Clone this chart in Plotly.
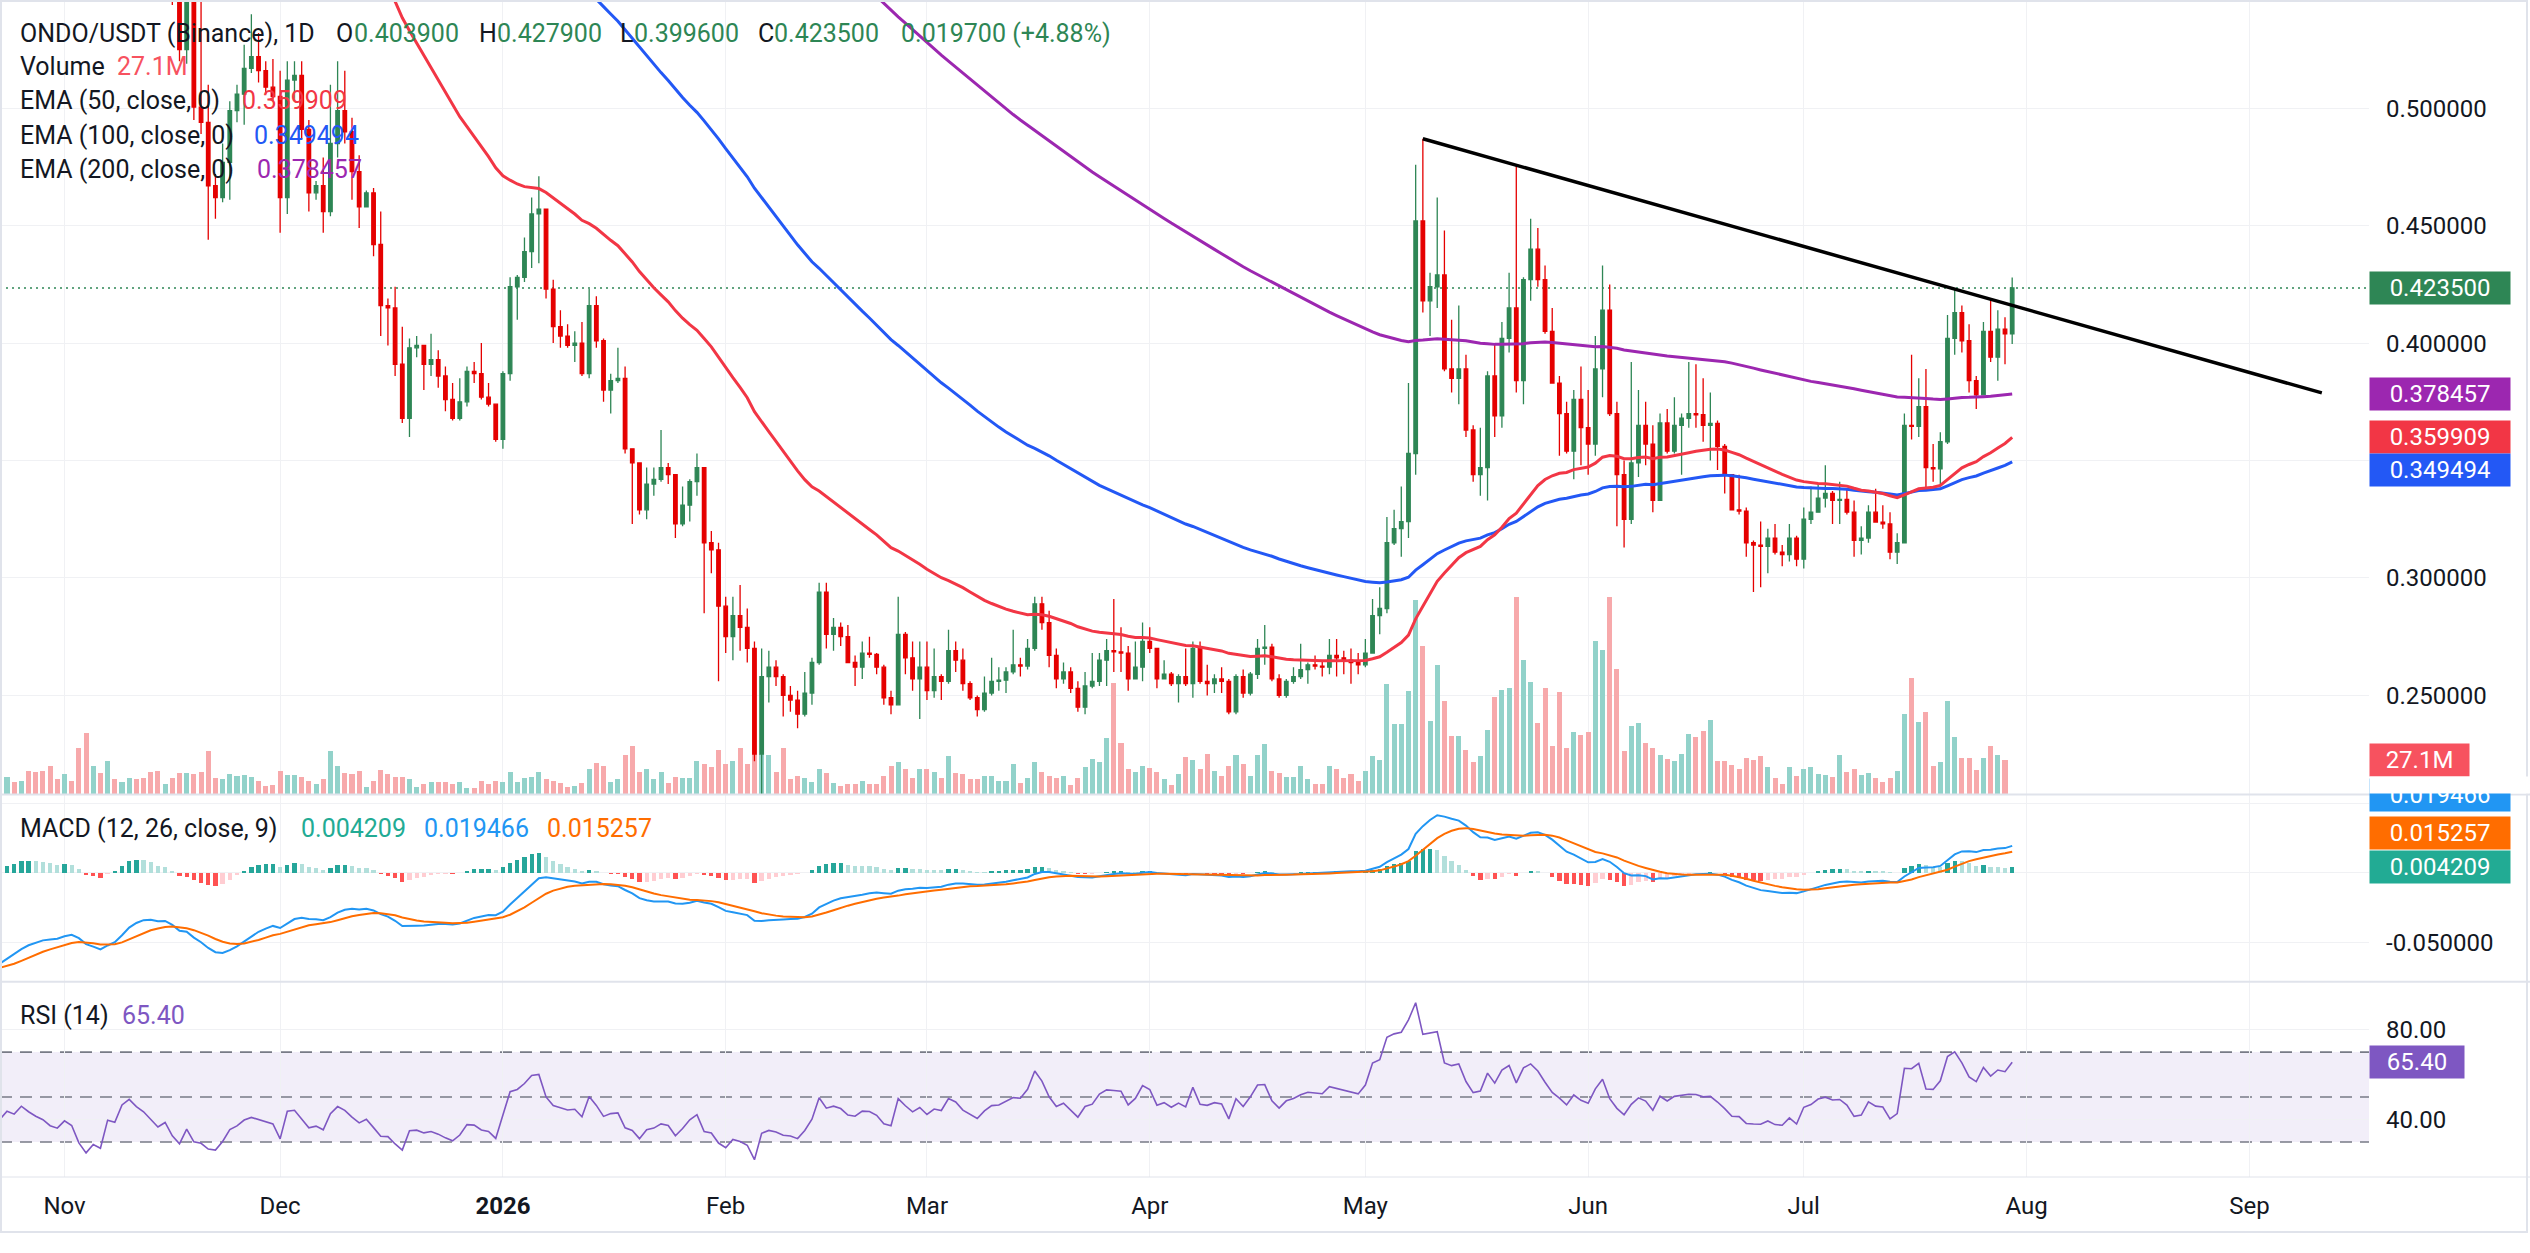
import pandas as pd
import plotly.graph_objects as go

# ------------------------------------------------------------------ data
START_DATE = "2025-10-23"
FIRST_OPEN = 0.685

close = [
    .690, .705, .698, .712, .700, .690, .682, .668, .662, .672,
    .662, .615, .578, .590, .576, .622, .616, .650, .662, .645,
    .632, .612, .590, .598, .556, .525, .552, .5005, .494, .467,
    .462, .477, .499, .506, .517, .522, .516, .509, .505, .462,
    .512, .514, .491, .464, .467, .456, .485, .499, .490, .473,
    .458, .464, .442, .416, .415, .391, .368, .398, .399, .391,
    .393, .386, .376, .368, .375, .388, .387, .377, .374, .359,
    .387, .424, .428, .439, .455, .457, .423, .407, .403, .399,
    .400, .387, .416, .401, .380, .384, .385, .355, .349, .329,
    .340, .342, .347, .344, .323, .331, .341, .347, .315, .312,
    .288, .275, .284, .279, .270, .225, .258, .262, .258, .250,
    .248, .242, .251, .264, .294, .276, .279, .275, .264, .262,
    .268, .2675, .262, .249, .246, .276, .266, .257, .262, .252,
    .258, .256, .269, .265, .255, .249, .244, .251, .256, .2565,
    .260, .263, .2625, .270, .289, .281, .267, .257, .260, .253,
    .245, .254, .256, .265, .269, .2685, .268, .257, .262, .273,
    .270, .257, .259, .255, .258, .255, .270, .256, .255, .257,
    .256, .243, .258, .251, .259, .270, .2705, .257, .250, .256,
    .258, .261, .263, .2625, .262, .267, .266, .265, .264, .263,
    .268, .284, .287, .315, .321, .324, .353, .452, .418, .424,
    .429, .389, .385, .389, .363, .344, .347, .386, .369, .402,
    .415, .384, .427, .440, .427, .405, .383, .370, .354, .376,
    .364, .357, .389, .414, .370, .344, .325, .349, .365, .357,
    .333, .366, .354, .365, .368, .370, .3695, .365, .3658, .356,
    .344, .329, .3285, .315, .314, .3135, .317, .311, .310, .317,
    .308, .325, .328, .334, .336, .333, .3335, .328, .316, .317,
    .328, .3238, .323, .311, .315, .365, .3646, .373, .347, .3465,
    .358, .402, .413, .401, .384, .378, .405, .394, .406, .4039, .4235,
]
high = [
    .705, .718, .715, .725, .716, .704, .696, .688, .676, .680,
    .678, .666, .620, .605, .598, .630, .632, .658, .675, .668,
    .652, .638, .615, .606, .600, .565, .562, .556, .549, .510,
    .472, .485, .503, .510, .527, .540, .532, .520, .521, .516,
    .520, .520, .520, .495, .469, .479, .510, .520, .516, .496,
    .480, .465, .466, .456, .419, .424, .407, .402, .403, .399,
    .404, .397, .390, .383, .385, .390, .392, .400, .383, .374,
    .388, .428, .429, .445, .462, .471, .457, .427, .414, .408,
    .405, .409, .423, .420, .402, .387, .398, .390, .355, .349,
    .347, .347, .363, .349, .344, .339, .342, .353, .347, .320,
    .315, .292, .292, .297, .287, .273, .270, .269, .265, .259,
    .254, .252, .260, .266, .298, .298, .283, .281, .280, .267,
    .273, .275, .268, .263, .252, .292, .277, .273, .273, .273,
    .270, .259, .278, .273, .270, .256, .250, .258, .266, .262,
    .262, .278, .266, .274, .292, .292, .286, .270, .264, .262,
    .256, .260, .268, .268, .274, .291, .279, .271, .273, .281,
    .279, .270, .265, .260, .259, .270, .273, .273, .263, .259,
    .262, .257, .259, .261, .260, .274, .280, .272, .259, .257,
    .262, .272, .264, .267, .265, .274, .274, .269, .270, .268,
    .274, .291, .296, .326, .329, .339, .383, .476, .487, .430,
    .462, .448, .410, .416, .395, .365, .364, .388, .400, .409,
    .430, .476, .428, .453, .449, .433, .415, .386, .375, .380,
    .390, .380, .403, .433, .425, .375, .350, .392, .380, .375,
    .365, .370, .372, .377, .370, .392, .391, .385, .379, .367,
    .357, .344, .344, .330, .316, .324, .321, .323, .314, .323,
    .318, .330, .339, .340, .348, .337, .341, .338, .333, .322,
    .331, .338, .331, .328, .319, .370, .395, .385, .389, .357,
    .362, .412, .423, .416, .408, .386, .409, .419, .414, .411, .4279,
]
low = [
    .672, .684, .690, .694, .695, .684, .675, .660, .655, .658,
    .655, .605, .560, .572, .568, .572, .608, .610, .645, .640,
    .625, .605, .584, .585, .544, .520, .519, .495, .489, .444,
    .453, .460, .461, .494, .493, .515, .511, .506, .503, .447,
    .455, .503, .487, .456, .461, .447, .454, .479, .485, .461,
    .449, .458, .437, .403, .399, .386, .366, .360, .394, .380,
    .386, .381, .371, .367, .367, .373, .383, .376, .373, .358,
    .355, .384, .410, .426, .432, .434, .419, .400, .398, .398,
    .392, .386, .385, .398, .375, .370, .383, .353, .323, .327,
    .325, .335, .341, .340, .317, .322, .324, .335, .285, .302,
    .256, .268, .265, .269, .264, .222, .208, .247, .254, .241,
    .243, .236, .241, .246, .263, .270, .269, .271, .264, .254,
    .257, .266, .259, .246, .242, .246, .259, .252, .240, .248,
    .249, .248, .255, .260, .252, .248, .241, .243, .250, .252,
    .251, .259, .258, .261, .269, .278, .262, .253, .255, .251,
    .243, .242, .253, .254, .254, .260, .260, .252, .257, .256,
    .268, .253, .257, .254, .247, .254, .249, .255, .250, .251,
    .251, .242, .242, .249, .250, .257, .263, .256, .249, .249,
    .255, .257, .255, .261, .258, .259, .258, .259, .255, .259,
    .262, .268, .276, .285, .314, .309, .317, .344, .413, .403,
    .415, .388, .379, .374, .360, .341, .335, .333, .360, .364,
    .396, .379, .374, .418, .424, .404, .383, .352, .353, .342,
    .348, .344, .352, .377, .369, .322, .313, .323, .343, .348,
    .328, .333, .353, .353, .344, .364, .364, .358, .350, .346,
    .336, .329, .327, .309, .294, .296, .302, .310, .305, .307,
    .305, .304, .323, .328, .330, .323, .323, .327, .309, .310,
    .315, .3238, .321, .308, .306, .315, .359, .360, .338, .341,
    .339, .357, .395, .396, .379, .372, .378, .392, .384, .391, .3996,
]
volume_m = [
    12.0, 14.2, 10.1, 10.9, 19.0, 18.2, 19.0, 22.3, 12.2, 16.2,
    10.9, 36.5, 48.6, 22.3, 17.4, 26.3, 12.2, 10.1, 13.4, 12.2,
    13.0, 18.2, 19.0, 8.1, 13.0, 17.4, 17.4, 16.2, 18.2, 34.4,
    13.0, 12.2, 16.2, 15.0, 15.4, 14.2, 10.9, 6.9, 7.7, 19.0,
    15.4, 15.4, 14.2, 10.9, 8.1, 12.2, 34.4, 22.3, 17.0, 16.2,
    19.0, 6.1, 10.9, 19.4, 16.2, 14.2, 14.2, 12.2, 6.1, 8.1,
    10.1, 10.1, 10.1, 8.1, 10.1, 5.3, 5.3, 10.9, 8.1, 10.9,
    10.1, 18.2, 10.1, 13.4, 14.2, 18.2, 12.2, 10.9, 9.3, 6.1,
    6.9, 9.3, 20.3, 25.1, 22.3, 10.1, 12.2, 31.2, 38.5, 18.2,
    20.3, 12.2, 18.2, 9.3, 14.2, 13.4, 13.4, 26.3, 24.3, 21.5,
    35.2, 24.3, 26.3, 36.5, 24.3, 32.4, 32.4, 31.2, 18.2, 36.5,
    12.2, 15.0, 13.4, 10.1, 20.3, 17.4, 9.3, 6.9, 8.1, 8.1,
    10.9, 8.1, 8.1, 15.0, 22.3, 25.5, 20.3, 13.4, 20.3, 20.3,
    18.2, 13.4, 30.4, 17.4, 16.2, 12.2, 12.2, 15.0, 15.0, 10.9,
    10.9, 24.3, 9.3, 13.4, 25.5, 18.2, 15.0, 13.4, 15.0, 7.3,
    13.4, 21.5, 28.4, 25.5, 44.6, 87.9, 40.5, 20.3, 18.2, 22.3,
    21.1, 18.2, 12.2, 7.3, 16.2, 29.6, 27.1, 20.3, 32.0, 19.0,
    15.0, 22.3, 31.2, 24.3, 15.0, 31.2, 40.1, 19.0, 17.4, 14.2,
    14.2, 22.3, 12.2, 8.1, 8.1, 22.3, 20.3, 13.4, 16.2, 10.9,
    19.0, 30.4, 27.1, 87.1, 55.5, 55.5, 82.2, 153.9, 117.5, 57.9,
    102.5, 74.1, 46.6, 46.6, 35.2, 25.5, 30.4, 51.4, 77.0, 83.0,
    84.2, 156.7, 106.5, 89.1, 56.7, 84.2, 38.5, 81.0, 36.5, 49.8,
    47.4, 49.8, 121.5, 114.2, 156.7, 99.2, 34.4, 53.9, 56.7, 40.5,
    36.5, 31.2, 28.4, 26.3, 32.4, 47.8, 45.4, 50.6, 58.7, 26.3,
    26.3, 23.1, 20.3, 29.2, 27.5, 30.4, 21.5, 13.4, 8.1, 21.5,
    15.0, 20.3, 21.5, 16.2, 15.4, 14.2, 31.2, 18.2, 20.3, 15.4,
    17.0, 13.4, 10.1, 13.4, 19.0, 64.0, 91.9, 57.5, 65.6, 22.3,
    25.5, 73.7, 45.8, 29.2, 29.2, 19.4, 29.2, 38.5, 31.2, 27.1, None,
]

EMA_SEEDS = {50: 0.870, 100: 0.916, 200: 0.914}
MACD_SEEDS = (0.722, 0.787, -0.068)      # fast EMA, slow EMA, signal
RSI_SEEDS = (0.0070, 0.0105)             # average gain, average loss

month_ticks = ["2025-11-01", "2025-12-01", "2026-01-01", "2026-02-01", "2026-03-01",
               "2026-04-01", "2026-05-01", "2026-06-01", "2026-07-01", "2026-08-01",
               "2026-09-01"]
month_labels = ["Nov", "Dec", "<b>2026</b>", "Feb", "Mar", "Apr", "May", "Jun",
                "Jul", "Aug", "Sep"]
price_ticks = [0.25, 0.30, 0.35, 0.40, 0.45, 0.50]
price_labels = ["0.250000", "0.300000", "", "0.400000", "0.450000", "0.500000"]
macd_ticks = [-0.05, 0.0, 0.05]
macd_labels = ["-0.050000", "", ""]
rsi_ticks = [40, 80]
rsi_labels = ["40.00", "80.00"]
rsi_levels = [70, 50, 30]

trend_dates = ["2026-05-09", "2026-09-11 02:00"]
trend_prices = [0.487, 0.3788]

legend_ohlc = [("O", 0.4039), ("H", 0.4279), ("L", 0.3996), ("C", 0.4235)]
legend_change = (0.0197, 4.88)
legend_volume = 27.1
legend_ema = {50: 0.359909, 100: 0.349494, 200: 0.378457}
legend_macd = {"hist": 0.004209, "macd": 0.019466, "signal": 0.015257}
legend_rsi = 65.40

# ------------------------------------------------------------------ style
FONT = "Roboto, Arial, sans-serif"
TEXT = "#131722"
UP = "#2E8655"
DOWN = "#E50000"
VOL_UP = "#92D2CA"
VOL_DOWN = "#F7A9AB"
EMA_COL = {50: "#F23645", 100: "#2358F5", 200: "#9C27B0"}
MACD_COL = "#2196F3"
SIG_COL = "#FF6D00"
HIST_COLS = ("#26A69A", "#B2DFDB", "#FFCDD2", "#FF5252")
RSI_COL = "#7E57C2"
GRID = "#F0F1F4"
BORDER = "#E0E3EB"

W, H = 2530, 1253
PW, PH = 2369, 1177           # plot area (right axis and time axis outside)
MAIN_BOTTOM, MACD_BOTTOM = 794.5, 981.7
X_RANGE = ["2025-10-23 00:36", "2026-09-17 15:30"]
PRICE_RANGE = [0.2078, 0.5461]
VOL_RANGE = [0, 629]
MACD_RANGE = [-0.078, 0.0563]
RSI_RANGE = [14.4, 101.35]


def fy(px):
    return (PH - px) / PH


def fx(px):
    return px / PW


# ------------------------------------------------------------------ derived series
n = len(close)
dates = pd.date_range(START_DATE, periods=n, freq="D")
opens = [FIRST_OPEN] + close[:-1]


def ema_series(vals, length, seed):
    k = 2.0 / (length + 1)
    out = [seed]
    for v in vals[1:]:
        out.append(out[-1] + k * (v - out[-1]))
    return out


ema = {L: ema_series(close, L, s) for L, s in EMA_SEEDS.items()}
fast = ema_series(close, 12, MACD_SEEDS[0])
slow = ema_series(close, 26, MACD_SEEDS[1])
macd = [f - s for f, s in zip(fast, slow)]
signal = [MACD_SEEDS[2]]
for m in macd[1:]:
    signal.append(signal[-1] + 0.2 * (m - signal[-1]))
hist = [m - s for m, s in zip(macd, signal)]
hist_colors = []
for i, hv in enumerate(hist):
    prev = hist[i - 1] if i > 0 else hv
    if hv >= 0:
        hist_colors.append(HIST_COLS[0] if hv > prev else HIST_COLS[1])
    else:
        hist_colors.append(HIST_COLS[2] if hv > prev else HIST_COLS[3])

ag, al = RSI_SEEDS
rsi = [100 - 100 / (1 + ag / al)]
for i in range(1, n):
    ch = close[i] - close[i - 1]
    ag = (ag * 13 + max(ch, 0)) / 14
    al = (al * 13 + max(-ch, 0)) / 14
    rsi.append(100 - 100 / (1 + ag / al))

vol_colors = [VOL_UP if c >= o else VOL_DOWN for c, o in zip(close, opens)]

DAY_MS = 86400000

# ------------------------------------------------------------------ traces
fig = go.Figure()

fig.add_trace(go.Bar(x=dates, y=volume_m, marker=dict(color=vol_colors, line=dict(width=0)),
                     width=0.7 * DAY_MS, xaxis="x", yaxis="y", hoverinfo="skip"))

fig.add_trace(go.Candlestick(
    x=dates, open=opens, high=high, low=low, close=close,
    xaxis="x", yaxis="y4",
    increasing=dict(line=dict(color=UP, width=1.3), fillcolor=UP),
    decreasing=dict(line=dict(color=DOWN, width=1.3), fillcolor=DOWN),
    whiskerwidth=0, hoverinfo="skip"))

for L in (200, 100, 50):
    fig.add_trace(go.Scatter(x=dates, y=ema[L], mode="lines", xaxis="x", yaxis="y4",
                             line=dict(color=EMA_COL[L], width=3), hoverinfo="skip"))

fig.add_trace(go.Scatter(x=trend_dates, y=trend_prices, mode="lines", xaxis="x", yaxis="y4",
                         line=dict(color="#000000", width=3.5), hoverinfo="skip"))

fig.add_trace(go.Bar(x=dates, y=hist, marker=dict(color=hist_colors, line=dict(width=0)),
                     width=0.6 * DAY_MS, xaxis="x2", yaxis="y2", hoverinfo="skip"))
fig.add_trace(go.Scatter(x=dates, y=macd, mode="lines", xaxis="x2", yaxis="y2",
                         line=dict(color=MACD_COL, width=2), hoverinfo="skip"))
fig.add_trace(go.Scatter(x=dates, y=signal, mode="lines", xaxis="x2", yaxis="y2",
                         line=dict(color=SIG_COL, width=2), hoverinfo="skip"))

fig.add_trace(go.Scatter(x=dates, y=rsi, mode="lines", xaxis="x3", yaxis="y3",
                         line=dict(color=RSI_COL, width=1.6), hoverinfo="skip"))

# ------------------------------------------------------------------ shapes
shapes = []
shapes.append(dict(type="rect", xref="paper", x0=0, x1=1, yref="y3", y0=30, y1=70,
                   fillcolor="rgba(126,87,194,0.10)", line=dict(width=0), layer="below"))
for lv in rsi_levels:
    shapes.append(dict(type="line", xref="paper", x0=0, x1=1, yref="y3", y0=lv, y1=lv,
                       line=dict(color="#787B86", width=1.6, dash="12px,8px"), layer="below"))
shapes.append(dict(type="line", xref="paper", x0=0, x1=1, yref="y4",
                   y0=legend_ohlc[3][1], y1=legend_ohlc[3][1],
                   line=dict(color=UP, width=1.5, dash="2px,4px"), layer="below"))
for ypx in (MAIN_BOTTOM, MACD_BOTTOM):
    shapes.append(dict(type="line", xref="paper", x0=0, x1=W / PW, yref="paper",
                       y0=fy(ypx), y1=fy(ypx), line=dict(color=BORDER, width=2), layer="above"))
shapes.append(dict(type="line", xref="paper", x0=0, x1=W / PW, yref="paper",
                   y0=fy(PH), y1=fy(PH), line=dict(color=BORDER, width=1), layer="above"))
shapes.append(dict(type="rect", xref="paper", x0=fx(1), x1=fx(2527), yref="paper",
                   y0=fy(1232), y1=fy(1), line=dict(color=BORDER, width=2), layer="above"))

# ------------------------------------------------------------------ annotations
ann = []


def text_at(xpx, ypx, text, color=TEXT, size=25):
    ann.append(dict(text=text, x=fx(xpx), xref="paper", xanchor="left",
                    y=fy(ypx), yref="paper", yanchor="middle", showarrow=False,
                    font=dict(family=FONT, size=size, color=color)))


text_at(18, 33, "ONDO/USDT (Binance), 1D")
ohlc_x = [(334, 352), (477, 495), (618, 632), (756, 772)]
for (lab, val), (lx, vx) in zip(legend_ohlc, ohlc_x):
    text_at(lx, 33, lab)
    text_at(vx, 33, f"{val:.6f}", UP)
text_at(899, 33, f"{legend_change[0]:.6f} (+{legend_change[1]:.2f}%)", UP)
text_at(18, 66.5, "Volume")
text_at(115, 66.5, f"{legend_volume:.1f}M", "#F7525F")
ema_rows = [(50, 100.5, 240), (100, 135, 252), (200, 169, 255)]
for L, ypx, vx in ema_rows:
    text_at(18, ypx, f"EMA ({L}, close, 0)")
    text_at(vx, ypx, f"{legend_ema[L]:.6f}", EMA_COL[L])
text_at(18, 828, "MACD (12, 26, close, 9)")
text_at(299, 828, f"{legend_macd['hist']:.6f}", "#22AB94")
text_at(422, 828, f"{legend_macd['macd']:.6f}", MACD_COL)
text_at(545, 828, f"{legend_macd['signal']:.6f}", SIG_COL)
text_at(18, 1015, "RSI (14)")
text_at(120, 1015, f"{legend_rsi:.2f}", RSI_COL)


def axis_label(text, y, yref, bg, width=140, yshift=0):
    ann.append(dict(text=text, x=1, xref="paper", xanchor="left", y=y, yref=yref,
                    yanchor="middle", yshift=yshift, showarrow=False, bgcolor=bg,
                    width=width, height=32, align="center", borderpad=0,
                    font=dict(family=FONT, size=24, color="#FFFFFF")))


axis_label(f"{legend_ohlc[3][1]:.6f}", legend_ohlc[3][1], "y4", UP)
axis_label(f"{legend_ema[200]:.6f}", legend_ema[200], "y4", EMA_COL[200])
axis_label(f"{legend_ema[50]:.6f}", legend_ema[50], "y4", EMA_COL[50])
axis_label(f"{legend_ema[100]:.6f}", legend_ema[100], "y4", EMA_COL[100], yshift=-8.5)
axis_label(f"{legend_volume:.1f}M", legend_volume, "y", "#F7525F", width=99)
axis_label(f"{legend_macd['macd']:.6f}", legend_macd["macd"], "y2", MACD_COL, yshift=51)
axis_label(f"{legend_macd['signal']:.6f}", legend_macd["signal"], "y2", SIG_COL, yshift=19)
axis_label(f"{legend_macd['hist']:.6f}", legend_macd["hist"], "y2", "#22AB94")
axis_label(f"{legend_rsi:.2f}", legend_rsi, "y3", RSI_COL, width=94)
# pane edge hides the upper half of the topmost MACD label
ann.append(dict(text=" ", x=1, xref="paper", xanchor="left", y=fy(785), yref="paper",
                yanchor="middle", showarrow=False, bgcolor="#FFFFFF", width=158, height=16,
                borderpad=0))

# ------------------------------------------------------------------ layout
tick_font = dict(family=FONT, size=24, color=TEXT)
xcommon = dict(type="date", range=X_RANGE, tickvals=month_ticks, ticktext=month_labels,
               showgrid=True, gridcolor=GRID, gridwidth=1, zeroline=False, showline=False,
               ticks="", domain=[0, 1])

fig.update_layout(
    width=W, height=H,
    margin=dict(l=0, r=W - PW, t=0, b=H - PH, pad=0),
    paper_bgcolor="#FFFFFF", plot_bgcolor="rgba(0,0,0,0)",
    showlegend=False, hovermode=False, dragmode=False,
    boxgap=0.3,
    bargap=0,
    xaxis=dict(xcommon, anchor="y", showticklabels=False, rangeslider=dict(visible=False)),
    xaxis2=dict(xcommon, anchor="y2", matches="x", showticklabels=False),
    xaxis3=dict(xcommon, anchor="y3", matches="x", showticklabels=True,
                tickfont=tick_font, ticklabelstandoff=12),
    yaxis=dict(domain=[fy(MAIN_BOTTOM), 1], range=VOL_RANGE, visible=False,
               showgrid=False, fixedrange=True),
    yaxis4=dict(overlaying="y", anchor="x", side="right", range=PRICE_RANGE,
                tickvals=price_ticks, ticktext=price_labels, tickfont=tick_font,
                showgrid=True, gridcolor=GRID, zeroline=False, ticks="",
                ticklabelstandoff=16, showline=False),
    yaxis2=dict(domain=[fy(MACD_BOTTOM), fy(MAIN_BOTTOM)], anchor="x2", side="right",
                range=MACD_RANGE, tickvals=macd_ticks, ticktext=macd_labels,
                tickfont=tick_font, showgrid=True, gridcolor=GRID, zeroline=False,
                ticks="", ticklabelstandoff=16),
    yaxis3=dict(domain=[0, fy(MACD_BOTTOM)], anchor="x3", side="right",
                range=RSI_RANGE, tickvals=rsi_ticks, ticktext=rsi_labels,
                tickfont=tick_font, showgrid=True, gridcolor=GRID, zeroline=False,
                ticks="", ticklabelstandoff=16),
    shapes=shapes,
    annotations=ann,
)

fig.write_html("out.html", config={"displayModeBar": False, "staticPlot": True})
